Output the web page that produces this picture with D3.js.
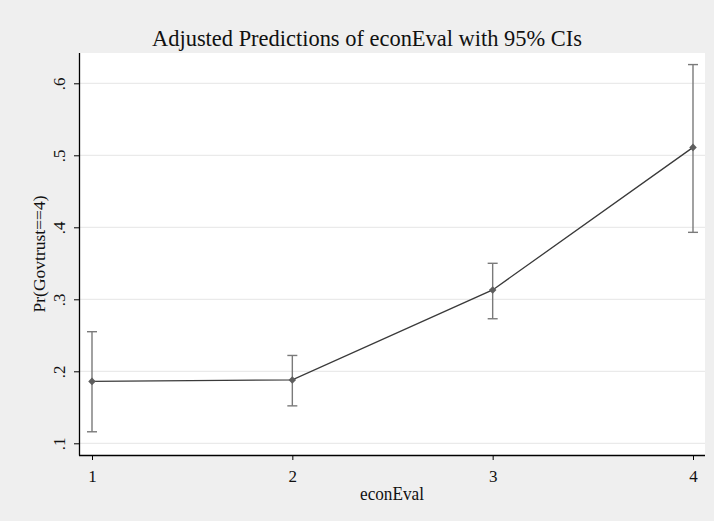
<!DOCTYPE html>
<html>
<head>
<meta charset="utf-8">
<script src="https://cdn.jsdelivr.net/npm/d3@7"></script>
<style>
  html, body { margin: 0; padding: 0; background: #efefef; }
  svg { display: block; }
  text { font-family: "Liberation Serif", "Times New Roman", serif; fill: #111; }
</style>
</head>
<body>
<svg id="chart" width="714" height="521"></svg>
<script>
// Adjusted predictions of Pr(Govtrust==4) by econEval, with 95% CIs
const categories = [1, 2, 3, 4];
const predicted  = [0.186, 0.188, 0.313, 0.511];
const ciLower    = [0.116, 0.152, 0.273, 0.393];
const ciUpper    = [0.255, 0.222, 0.350, 0.626];
const yTicks     = [0.1, 0.2, 0.3, 0.4, 0.5, 0.6];
const yTickLabels = [".1", ".2", ".3", ".4", ".5", ".6"];

const svg = d3.select("#chart");
const W = 714, H = 521;
const plot = { left: 79, right: 705, top: 53, bottom: 455 };

svg.append("rect").attr("width", W).attr("height", H).attr("fill", "#efefef");

const x = d3.scaleLinear().domain([1, 4]).range([92, 693]);
const y = d3.scaleLinear().domain([0.1, 0.6]).range([443.3, 83.3]);

// plot region
svg.append("rect")
  .attr("x", plot.left).attr("y", plot.top)
  .attr("width", plot.right - plot.left).attr("height", plot.bottom - plot.top)
  .attr("fill", "#ffffff");

// horizontal gridlines
svg.append("g").selectAll("line").data(yTicks).join("line")
  .attr("x1", plot.left).attr("x2", plot.right)
  .attr("y1", d => y(d)).attr("y2", d => y(d))
  .attr("stroke", "#eaeaea").attr("stroke-width", 1.2);

// y axis
const yAxis = svg.append("g").attr("transform", `translate(${plot.left},0)`)
  .call(d3.axisLeft(y).tickValues(yTicks).tickSize(5).tickPadding(0).tickFormat((d, i) => yTickLabels[i]));
yAxis.select(".domain").attr("d", `M0.5,${plot.top}V${plot.bottom + 0.5}`).attr("stroke", "#000").attr("stroke-width", 1.3);
yAxis.selectAll(".tick line").attr("stroke", "#000");
yAxis.selectAll(".tick text")
  .attr("x", 0).attr("y", 0).attr("dy", null)
  .attr("transform", "translate(-14,0) rotate(-90)")
  .attr("text-anchor", "middle")
  .style("font-size", "17px")
  .style("font-family", "'Liberation Serif', serif");

// x axis
const xAxis = svg.append("g").attr("transform", `translate(0,${plot.bottom})`)
  .call(d3.axisBottom(x).tickValues(categories).tickSize(5).tickFormat(d3.format("d")));
xAxis.select(".domain").attr("d", `M${plot.left},0.5H${plot.right}`).attr("stroke", "#000").attr("stroke-width", 1.3);
xAxis.selectAll(".tick line").attr("stroke", "#000");
xAxis.selectAll(".tick text")
  .attr("y", 27).attr("dy", null)
  .style("font-size", "17px")
  .style("font-family", "'Liberation Serif', serif");

// connecting line
const pts = categories.map((c, i) => [x(c), y(predicted[i])]);
svg.append("path")
  .attr("d", d3.line()(pts))
  .attr("fill", "none").attr("stroke", "#3a3a3a").attr("stroke-width", 1.3);

// confidence intervals
const ci = svg.append("g").attr("stroke", "#7a7a7a").attr("stroke-width", 1.4);
categories.forEach((c, i) => {
  const cx = x(c);
  ci.append("line").attr("x1", cx).attr("x2", cx).attr("y1", y(ciLower[i])).attr("y2", y(ciUpper[i]));
  ci.append("line").attr("x1", cx - 5).attr("x2", cx + 5).attr("y1", y(ciLower[i])).attr("y2", y(ciLower[i]));
  ci.append("line").attr("x1", cx - 5).attr("x2", cx + 5).attr("y1", y(ciUpper[i])).attr("y2", y(ciUpper[i]));
});

// point markers
svg.append("g").selectAll("path").data(categories).join("path")
  .attr("transform", (d, i) => `translate(${x(d)},${y(predicted[i])})`)
  .attr("d", d3.symbol(d3.symbolDiamond2, 36)())
  .attr("fill", "#5e5e5e");

// titles
svg.append("text")
  .attr("x", 367).attr("y", 46)
  .attr("text-anchor", "middle")
  .attr("textLength", 430).attr("lengthAdjust", "spacingAndGlyphs")
  .style("font-size", "24px")
  .text("Adjusted Predictions of econEval with 95% CIs");

svg.append("text")
  .attr("x", (plot.left + plot.right) / 2).attr("y", 500)
  .attr("text-anchor", "middle")
  .attr("textLength", 64).attr("lengthAdjust", "spacingAndGlyphs")
  .style("font-size", "18px")
  .text("econEval");

svg.append("text")
  .attr("transform", "translate(45,254) rotate(-90)")
  .attr("text-anchor", "middle")
  .attr("textLength", 117).attr("lengthAdjust", "spacingAndGlyphs")
  .style("font-size", "17px")
  .text("Pr(Govtrust==4)");
</script>
</body>
</html>
